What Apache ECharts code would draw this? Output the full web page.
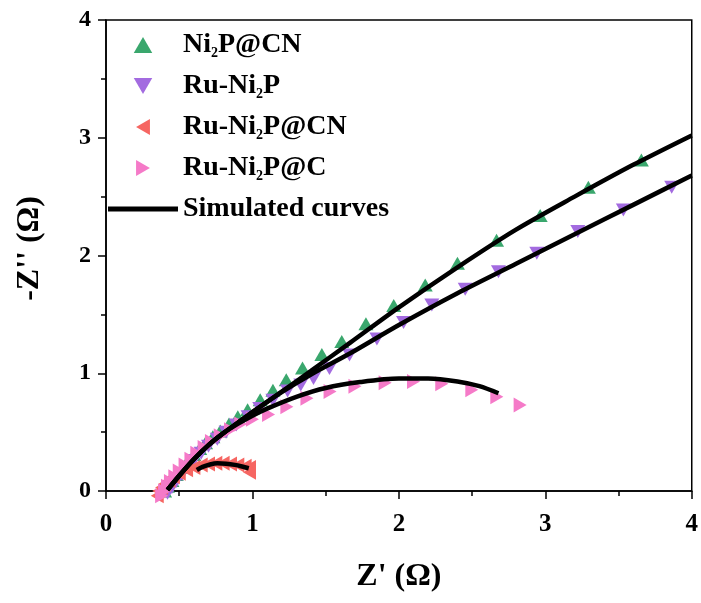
<!DOCTYPE html>
<html>
<head>
<meta charset="utf-8">
<script src="https://cdn.jsdelivr.net/npm/echarts@6/dist/echarts.min.js"></script>
<style>html,body{margin:0;padding:0;background:#fff;}#c{width:701px;height:603px;}</style>
</head>
<body>
<div id="c"></div>
<script>
// ---- data (Z', -Z'') ----
var ni2pcn = [[0.40,0.0],[0.42,0.04],[0.45,0.09],[0.48,0.14],[0.52,0.20],[0.56,0.26],[0.60,0.31],[0.64,0.36],[0.68,0.41],[0.73,0.46],[0.78,0.51],[0.84,0.57],[0.90,0.63],[0.967,0.69],[1.053,0.775],[1.14,0.855],[1.231,0.945],[1.342,1.045],[1.474,1.16],[1.61,1.27],[1.775,1.42],[1.965,1.575],[2.18,1.75],[2.40,1.935],[2.667,2.13],[2.965,2.34],[3.294,2.58],[3.656,2.81]];
var runi2p = [[0.42,-0.02],[0.45,0.03],[0.48,0.08],[0.52,0.14],[0.56,0.20],[0.60,0.26],[0.65,0.32],[0.70,0.38],[0.76,0.44],[0.82,0.50],[0.89,0.56],[0.97,0.63],[1.05,0.70],[1.14,0.77],[1.24,0.85],[1.33,0.90],[1.417,0.955],[1.526,1.04],[1.663,1.155],[1.85,1.29],[2.032,1.43],[2.225,1.58],[2.453,1.714],[2.68,1.863],[2.942,2.02],[3.222,2.203],[3.533,2.387],[3.863,2.58]];
var runi2pcn = [[0.35,-0.04],[0.36,0.0],[0.38,0.03],[0.40,0.06],[0.43,0.09],[0.46,0.12],[0.50,0.15],[0.55,0.18],[0.60,0.20],[0.65,0.22],[0.70,0.23],[0.75,0.235],[0.80,0.235],[0.85,0.23],[0.90,0.22],[0.95,0.21],[0.98,0.20],[0.98,0.16]];
var runi2pc = [[0.38,-0.04],[0.40,0.0],[0.42,0.04],[0.44,0.08],[0.47,0.12],[0.50,0.17],[0.54,0.22],[0.58,0.27],[0.62,0.32],[0.67,0.37],[0.72,0.42],[0.78,0.47],[0.85,0.52],[0.92,0.57],[1.0,0.61],[1.11,0.65],[1.235,0.716],[1.372,0.788],[1.53,0.844],[1.70,0.89],[1.906,0.92],[2.10,0.93],[2.293,0.91],[2.498,0.86],[2.669,0.80],[2.828,0.73]];
// simulated curves
var simNi2pcn = [[0.42,0.01],[0.5,0.13],[0.6,0.27],[0.7,0.39],[0.8,0.49],[0.9,0.58],[1.0,0.67],[1.2,0.845],[1.4,1.02],[1.668,1.26],[2.0,1.56],[2.4,1.9],[2.8,2.22],[3.2,2.5],[3.6,2.77],[4.0,3.02]];
var simRuni2p = [[0.42,0.01],[0.5,0.13],[0.6,0.27],[0.7,0.39],[0.8,0.49],[0.9,0.58],[1.0,0.67],[1.2,0.84],[1.4,0.99],[1.668,1.17],[2.0,1.41],[2.4,1.68],[2.8,1.93],[3.2,2.18],[3.6,2.43],[4.0,2.68]];
var simRuni2pcn = [[0.62,0.178],[0.66,0.205],[0.71,0.225],[0.76,0.235],[0.82,0.232],[0.88,0.222],[0.93,0.208],[0.975,0.193]];
var simRuni2pc = [[0.42,0.01],[0.5,0.13],[0.6,0.27],[0.7,0.39],[0.8,0.49],[0.9,0.57],[1.0,0.64],[1.1,0.70],[1.3,0.80],[1.5,0.875],[1.736,0.925],[2.0,0.955],[2.2,0.955],[2.4,0.93],[2.55,0.89],[2.68,0.83]];
var xTicks = ['0','1','2','3','4'];
var yTicks = ['0','1','2','3','4'];

var FONT = '"Liberation Serif","Times New Roman",serif';
var UP = 'path://M5,0L10,8.66L0,8.66Z';
var DOWN = 'path://M0,0L10,0L5,8.66Z';
var LEFT = 'path://M8.66,0L8.66,10L0,5Z';
var RIGHT = 'path://M0,0L0,10L8.66,5Z';

function scatter(name, data, sym, size, color) {
  return {type:'scatter', name:name, data:data, symbol:sym, symbolSize:size, symbolKeepAspect:false,
    clip:false, itemStyle:{color:color, opacity:1}, z:2};
}
function sim(data) {
  return {type:'line', name:'Simulated curves', data:data, showSymbol:false, symbol:'none', smooth:0.3,
    lineStyle:{color:'#000', width:4.5}, itemStyle:{color:'#000'}, z:5, clip:true};
}

var chart = echarts.init(document.getElementById('c'), null, {renderer:'canvas'});
chart.setOption({
  animation:false,
  backgroundColor:'#fff',
  grid:{left:106, right:9, top:20, bottom:112, show:true, borderColor:'#000', borderWidth:1.5, backgroundColor:'transparent'},
  xAxis:{type:'value', min:0, max:4, interval:1,
    name:"Z' (Ω)", nameLocation:'middle', nameGap:70,
    nameTextStyle:{fontFamily:FONT, fontWeight:'bold', fontSize:32, color:'#000'},
    axisLine:{show:true, onZero:false, lineStyle:{color:'#000', width:1.5}},
    axisTick:{show:true, length:8, lineStyle:{color:'#000', width:1.5}},
    minorTick:{show:true, splitNumber:2, length:5, lineStyle:{color:'#000', width:1.5}},
    splitLine:{show:false},
    axisLabel:{margin:21, fontFamily:FONT, fontWeight:'bold', fontSize:25, color:'#000',
      formatter:function(v){return xTicks[Math.round(v)];}}
  },
  yAxis:{type:'value', min:0, max:4, interval:1,
    name:"-Z'' (Ω)", nameLocation:'middle', nameGap:60,
    nameTextStyle:{fontFamily:FONT, fontWeight:'bold', fontSize:32, color:'#000', padding:[0,0,0,14]},
    axisLine:{show:true, onZero:false, lineStyle:{color:'#000', width:1.5}},
    axisTick:{show:true, length:8, lineStyle:{color:'#000', width:1.5}},
    minorTick:{show:true, splitNumber:2, length:5, lineStyle:{color:'#000', width:1.5}},
    splitLine:{show:false},
    axisLabel:{margin:15, fontFamily:FONT, fontWeight:'bold', fontSize:24, color:'#000',
      formatter:function(v){return yTicks[Math.round(v)];}}
  },
  legend:{
    orient:'vertical', left:108, top:30, padding:0, itemWidth:70, itemHeight:16, itemGap:11,
    data:['Ni2P@CN','Ru-Ni2P','Ru-Ni2P@CN','Ru-Ni2P@C',{name:'Simulated curves', icon:'path://M0,0L70,0L70,5L0,5Z'}],
    formatter:function(n){
      if (n==='Simulated curves') return '{b|Simulated curves}';
      var i = n.indexOf('Ni2P');
      return '{b|'+n.slice(0,i)+'Ni}{s|2}{b|'+n.slice(i+3)+'}';
    },
    textStyle:{fontFamily:FONT, fontWeight:'bold', fontSize:28, color:'#000', lineHeight:30,
      rich:{b:{fontFamily:FONT, fontWeight:'bold', fontSize:28, color:'#000', lineHeight:30},
            s:{fontFamily:FONT, fontWeight:'bold', fontSize:14, color:'#000', lineHeight:30, verticalAlign:'bottom'}}}
  },
  series:[
    scatter('Ni2P@CN', ni2pcn, UP, [15,13], '#3aa76d'),
    scatter('Ru-Ni2P', runi2p, DOWN, [15,13], '#a36be0'),
    scatter('Ru-Ni2P@CN', runi2pcn, LEFT, [13,15], '#f66662'),
    scatter('Ru-Ni2P@C', runi2pc, RIGHT, [13,15], '#f57ac8'),
    sim(simNi2pcn), sim(simRuni2p), sim(simRuni2pcn), sim(simRuni2pc)
  ]
});
</script>
</body>
</html>
